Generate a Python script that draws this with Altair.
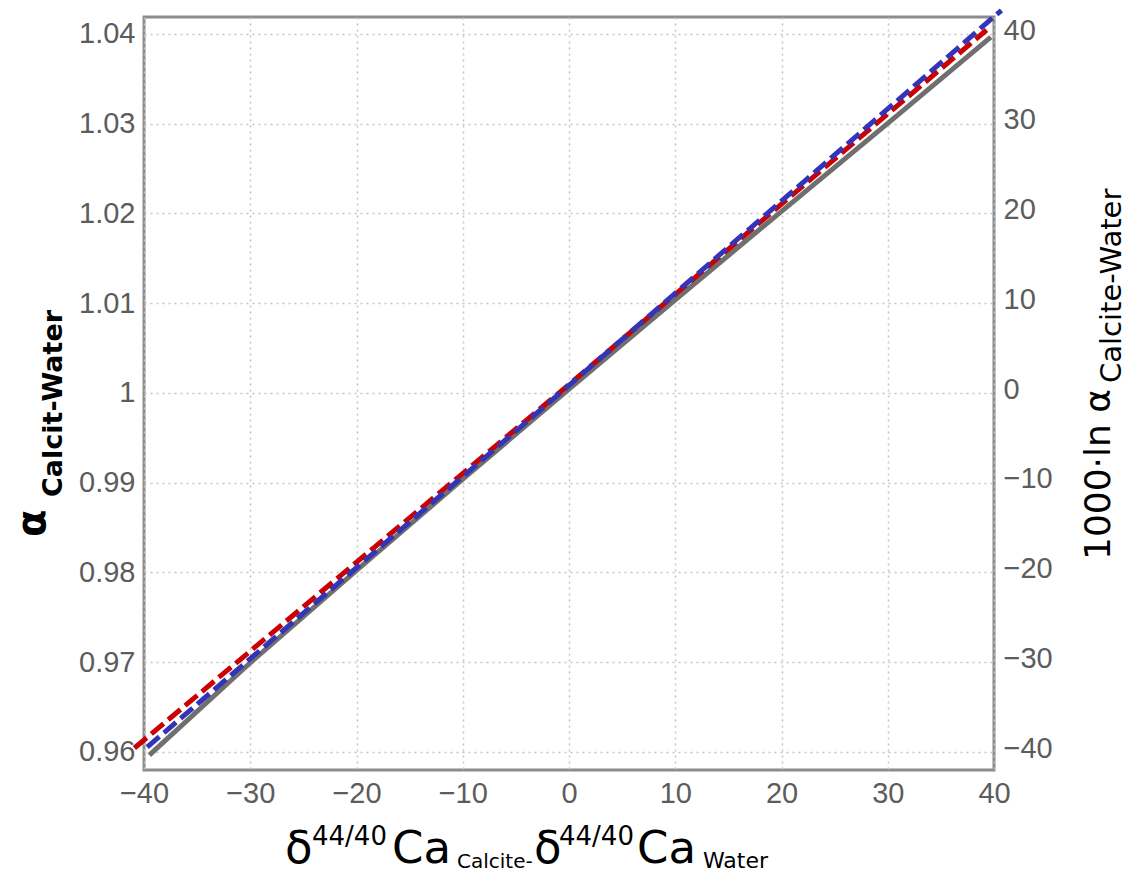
import altair as alt
import pandas as pd

# ---- data ----
x_ticks = [-40, -30, -20, -10, 0, 10, 20, 30, 40]
alpha_ticks = [0.96, 0.97, 0.98, 0.99, 1.0, 1.01, 1.02, 1.03, 1.04]
permil_ticks = [-40, -30, -20, -10, 0, 10, 20, 30, 40]

grey_x = [-39.5, -30, -20, -10, 0, 10, 20, 30, 39.7]
grey_y = [-40.8, -30.5, -20.2, -10.05, 0.0, 9.95, 19.8, 29.6, 39.2]

red_x = [-40.9, 0.0, 39.3]
red_y = [-40.0, 0.5, 40.0]

blue_x = [-39.7, 0.0, 40.7]
blue_y = [-39.9, 0.4, 42.2]

grey_df = pd.DataFrame({"d": grey_x, "v": grey_y})
red_df = pd.DataFrame({"d": red_x, "v": red_y})
blue_df = pd.DataFrame({"d": blue_x, "v": blue_y})
alpha_df = pd.DataFrame({"a": alpha_ticks})

W, H = 850, 753
LABEL_FONT = "Liberation Sans"
LABEL_COLOR = "#5c5c5c"
TITLE_FONT = "DejaVu Sans"

xscale = alt.Scale(domain=[-40, 40], nice=False, zero=False)
rscale = alt.Scale(domain=[-42.45, 41.45], nice=False, zero=False)
lscale = alt.Scale(domain=[0.95799, 1.04189], nice=False, zero=False)

x_axis = alt.Axis(
    values=x_ticks, title=None, grid=True, gridDash=[2, 4], gridColor="#c4c4c4",
    gridWidth=1.5, ticks=False, domain=False, labelFont=LABEL_FONT,
    labelFontSize=29, labelColor=LABEL_COLOR, labelPadding=9, labelFlush=False,
)
r_axis = alt.Axis(
    orient="right", values=permil_ticks, title=None, grid=False, ticks=False,
    domain=False, labelFont=LABEL_FONT, labelFontSize=29,
    labelColor=LABEL_COLOR, labelPadding=9,
)

left_layer = alt.Chart(alpha_df).mark_point(opacity=0).encode(
    x=alt.value(0),
    y=alt.Y("a:Q", scale=lscale, axis=alt.Axis(
        orient="left", values=alpha_ticks, format="~g", title=None, grid=True,
        gridDash=[2, 4], gridColor="#c4c4c4", gridWidth=1.5, ticks=False,
        domain=False, labelFont=LABEL_FONT, labelFontSize=29,
        labelColor=LABEL_COLOR, labelPadding=9)),
)

enc = dict(
    x=alt.X("d:Q", scale=xscale, axis=x_axis),
    y=alt.Y("v:Q", scale=rscale, axis=r_axis),
)
grey = alt.Chart(grey_df).mark_line(color="#6f6f6f", strokeWidth=5).encode(**enc)
red = alt.Chart(red_df).mark_line(color="#cc0000", strokeWidth=5, strokeDash=[16, 6]).encode(**enc)
blue = alt.Chart(blue_df).mark_line(color="#3434b8", strokeWidth=5, strokeDash=[16, 6]).encode(**enc)
lines = alt.layer(grey, red, blue)

# ---- axis titles built from text pieces (sub/superscripts) ----
# (text, x, y, fontSize, weight, angle) in plot-area pixel coordinates
pieces = [
    ("δ", 141, 846, 45, "normal", 0),
    ("44/40", 168, 828, 26, "normal", 0),
    ("Ca", 248, 846, 45, "normal", 0),
    ("Calcite-", 313, 851, 20, "normal", 0),
    ("δ", 390, 846, 45, "normal", 0),
    ("44/40", 415, 828, 26, "normal", 0),
    ("Ca", 493, 846, 45, "normal", 0),
    ("Water", 559, 851, 22, "normal", 0),
    ("α", -99, 520, 40, "bold", 270),
    ("Calcit-Water", -82, 480, 27, "bold", 270),
    ("1000·ln α", 966, 543, 36, "normal", 270),
    ("Calcite-Water", 977, 366, 29, "normal", 270),
]

text_layers = []
for t, px, py, fs, fw, ang in pieces:
    text_layers.append(
        alt.Chart(pd.DataFrame({"t": [t]})).mark_text(
            align="left", baseline="alphabetic", font=TITLE_FONT, fontSize=fs,
            fontWeight=fw, angle=ang, color="#000000",
        ).encode(x=alt.value(px), y=alt.value(py), text="t:N")
    )

chart = alt.layer(left_layer, lines, *text_layers).resolve_scale(
    y="independent"
).properties(
    width=W, height=H,
    autosize=alt.AutoSizeParams(type="none"),
    padding={"left": 136, "top": 9, "right": 134, "bottom": 103},
    background="#ffffff",
).configure_view(stroke="#8c8c8c", strokeWidth=3)

chart.save("out.html", embed_options={"renderer": "svg", "actions": False})
